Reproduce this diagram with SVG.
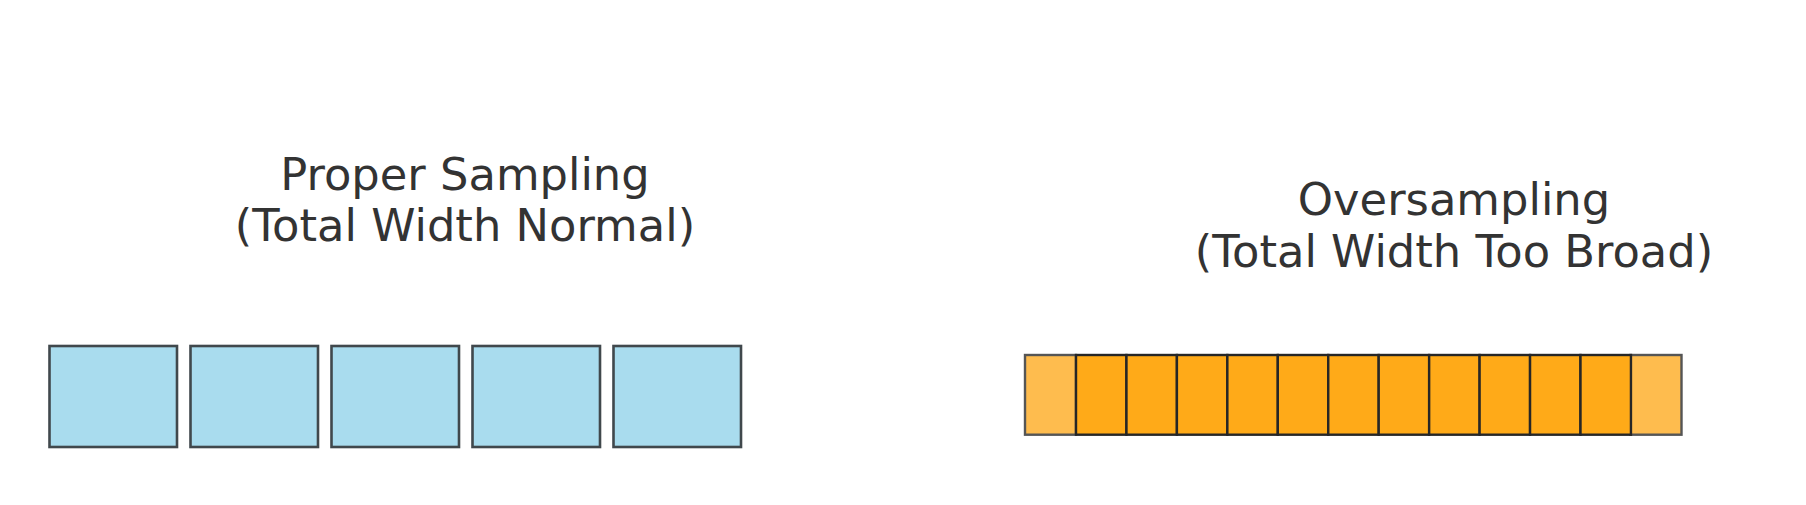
<svg xmlns="http://www.w3.org/2000/svg" width="1806" height="505" viewBox="0 0 1806 505">
<style>
.t{font-family:"DejaVu Sans",sans-serif;font-size:44.8px;fill:#333333;text-anchor:middle}
.b{fill:#A9DCEE;stroke:#40484C;stroke-width:2.6}
.f{fill:#FEBC4E;stroke:#555555;stroke-width:2.4}
.s{fill:#FFAA18;stroke:#262626;stroke-width:2.4}
</style>
<rect width="1806" height="505" fill="#ffffff"/>
<g id="title-proper">
<text class="t" x="465" y="189.5">Proper Sampling</text>
<text class="t" x="465" y="241">(Total Width Normal)</text>
</g>
<g id="title-over">
<text class="t" x="1454" y="215">Oversampling</text>
<text class="t" x="1454" y="266.5">(Total Width Too Broad)</text>
</g>
<g id="proper-samples">
<rect class="b" x="49.5" y="346" width="127.5" height="101"/>
<rect class="b" x="190.5" y="346" width="127.5" height="101"/>
<rect class="b" x="331.5" y="346" width="127.5" height="101"/>
<rect class="b" x="472.5" y="346" width="127.5" height="101"/>
<rect class="b" x="613.5" y="346" width="127.5" height="101"/>
</g>
<g id="over-samples">
<rect class="f" x="1025" y="355" width="51" height="79.7"/>
<rect class="f" x="1630.5" y="355" width="51" height="79.7"/>
<rect class="s" x="1076" y="355" width="50.45" height="79.7"/>
<rect class="s" x="1126.45" y="355" width="50.45" height="79.7"/>
<rect class="s" x="1176.9" y="355" width="50.45" height="79.7"/>
<rect class="s" x="1227.35" y="355" width="50.45" height="79.7"/>
<rect class="s" x="1277.8" y="355" width="50.45" height="79.7"/>
<rect class="s" x="1328.25" y="355" width="50.45" height="79.7"/>
<rect class="s" x="1378.7" y="355" width="50.45" height="79.7"/>
<rect class="s" x="1429.15" y="355" width="50.45" height="79.7"/>
<rect class="s" x="1479.6" y="355" width="50.45" height="79.7"/>
<rect class="s" x="1530.05" y="355" width="50.45" height="79.7"/>
<rect class="s" x="1580.5" y="355" width="50.45" height="79.7"/>
</g>
<g id="connectors"></g>
</svg>
